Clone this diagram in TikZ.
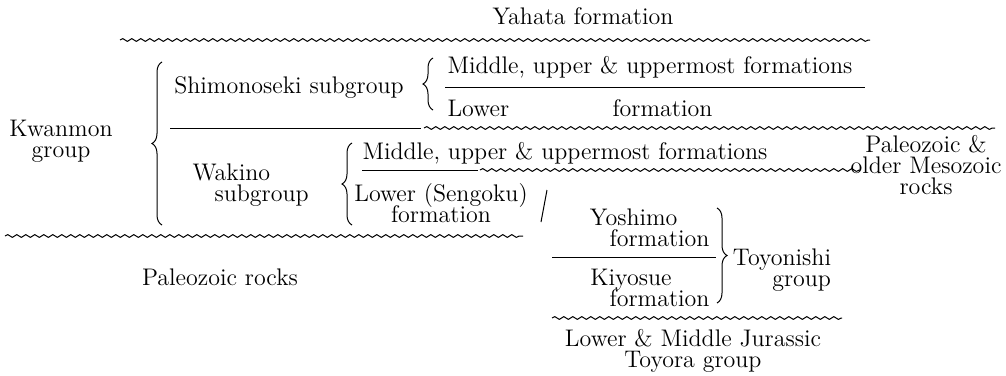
\documentclass[tikz,border=0pt]{standalone}
\usepackage{tikz}
\usetikzlibrary{decorations.pathmorphing,decorations.pathreplacing}
\setlength{\lineskiplimit}{-5pt}

\begin{document}
\begin{tikzpicture}[x=0.5pt,y=-0.5pt,line width=0.5pt,
    txt/.style={inner sep=0pt,font=\fontsize{12}{10.5}\selectfont},
    wavy/.style={decorate,decoration={snake,segment length=4.5pt,amplitude=0.7pt}},
    brc/.style={decorate,decoration={brace,amplitude=5pt}}]
\useasboundingbox (0,0) rectangle (1006,375);

% top
\node[txt] (yahata) at (583,16) {Yahata formation};
\draw[wavy] (120,40) -- (870,40);

% Kwanmon group
\node[txt,align=center] (kwanmon) at (61,141) {Kwanmon\\group};
\draw[brc] (162,225) -- (162,62);

% Shimonoseki subgroup
\node[txt] (shimo) at (289,88) {Shimonoseki subgroup};
\draw[brc] (433,110) -- (433,58);
\node[txt,anchor=west] (shimomid) at (447,67) {Middle, upper \& uppermost formations};
\draw (445,87) -- (865,87);
\node[txt,anchor=west] (shimolow) at (447,108) {Lower};
\node[txt,anchor=west] (shimoform) at (612,108) {formation};
\draw (170,128) -- (421,128);
\draw[wavy] (424,128) -- (995,128);

% Wakino subgroup
\node[txt,align=left,anchor=west] (wakino) at (192,185) {Wakino\\\hspace*{11pt}subgroup};
\draw[brc] (352,225) -- (352,143);
\node[txt,anchor=west] (wakimid) at (362,153) {Middle, upper \& uppermost formations};
\draw (362,170) -- (478,170);
\draw[wavy] (480,170) -- (860,170);
\node[txt,align=center] (sengoku) at (441,203) {Lower (Sengoku)\\formation};
\draw (541,222) -- (547,190);
\node[txt,align=center] (olderrocks) at (926,165) {Paleozoic \&\\older Mesozoic\\rocks};

% base of Kwanmon group
\draw[wavy] (5,236) -- (523,236);
\node[txt] (paleo) at (220,277) {Paleozoic rocks};

% Toyonishi group
\node[txt,align=right,anchor=east] (yoshimo) at (710,228) {Yoshimo\hspace*{16pt}\\formation};
\draw (552,257) -- (716,257);
\node[txt,align=right,anchor=east] (kiyosue) at (710,288) {Kiyosue\hspace*{19pt}\\formation};
\draw[brc] (717,208) -- (717,303);
\node[txt,align=right] (toyonishi) at (782,270) {Toyonishi\\group};
\draw[wavy] (552,318) -- (842,318);
\node[txt,align=center] (toyora) at (693,351) {Lower \& Middle Jurassic\\Toyora group};
\end{tikzpicture}
\end{document}
